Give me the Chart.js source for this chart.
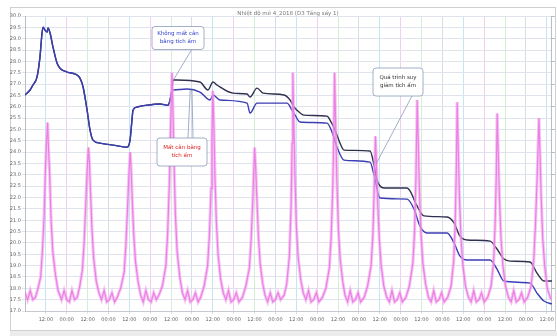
<!DOCTYPE html>
<html><head><meta charset="utf-8">
<script src="https://cdn.jsdelivr.net/npm/chart.js@4.4.1/dist/chart.umd.min.js"></script>
<style>html,body{margin:0;padding:0;background:#fff}canvas{display:block}</style>
</head><body>
<canvas id="c" width="557" height="336"></canvas>
<script>
// ---------- data (hours from start, temperature) ----------
const chartTitle = "Nhiệt độ mẻ 4_2018 (D3 Tầng sấy 1)";
const xTickHours = [12,24,36,48,60,72,84,96,108,120,132,144,156,168,180,192,204,216,228,240,252,264,276,288,300];
const xTickLabels = ["12:00","00:00","12:00","00:00","12:00","00:00","12:00","00:00","12:00","00:00","12:00","00:00","12:00","00:00","12:00","00:00","12:00","00:00","12:00","00:00","12:00","00:00","12:00","00:00","12:00"];

const commonHours = [0,2.9,4.6,6.9,8.6,9.8,10.4,11.5,12.7,13.2,14.4,16.1,18.4,20.1,24.2,29.9,31.6,33.4,35.7,37.4,39.1,43.1,50.6,58.7,60.4,61.5,62.1,64.4,70.2,77.6,82.2,83.4,84.5];
const commonTemps = [26.52,26.74,26.96,27.31,28.19,29.25,29.51,29.38,29.29,29.47,29.25,28.63,27.93,27.70,27.53,27.40,27.26,26.87,25.85,24.97,24.53,24.40,24.31,24.22,24.53,25.41,25.85,25.99,26.07,26.12,26.07,26.30,26.74];

const upperHours = [85.1,87.4,100.6,105.2,108.1,110.4,119.6,127.7,129.4,133.4,136.9,148.9,152.4,154.7,156.4,160.4,173.7,175.4,178.3,181.1,183.4,198.4,200.7,202.4,206.4,219.7,221.4,225.4,229.4,242.7,246.7,250.1,254.2,267.4,271.4,275.4,278.9,290.4,294.4,298.4,303];
const upperTemps = [27.18,27.18,27.09,26.74,27.09,26.96,26.60,26.56,26.43,26.82,26.60,26.52,26.30,25.99,25.85,25.63,25.59,25.41,24.97,24.40,24.09,24.05,23.43,22.77,22.42,22.42,22.29,21.63,21.19,21.14,20.88,20.30,20.13,20.08,19.73,19.29,19.20,19.16,18.67,18.32,18.32];

const lowerHours = [85.1,93.2,100.6,106.4,108.1,112.1,127.7,129.4,133.4,146.6,150.7,153.5,155.3,158.1,173.7,176.5,179.4,183.4,198.4,200.7,204.1,219.7,223.7,227.1,231.2,242.7,246.7,250.1,254.2,267.4,271.4,275.4,290.4,294.4,298.4,303];
const lowerTemps = [26.74,26.78,26.65,26.30,26.52,26.30,26.16,25.72,26.16,26.16,26.16,25.85,25.63,25.33,25.28,24.89,24.22,23.65,23.56,22.99,21.98,21.93,21.49,20.74,20.44,20.44,20.00,19.42,19.25,19.25,18.85,18.32,18.23,17.79,17.44,17.31];

const pinkHours = [
 0,1.5,3,4.5,6,7.5,9,10,11,11.8,12.5,13,13.5,14.2,15,16,17.5,19,21,22.5,24,
 25.5,27,28.5,30,31.5,33,34,35,35.8,36.5,37,37.6,38.5,39.5,41,42.5,44,45.5,47,
 48.5,50,51.5,53,55,57,58,59,59.8,60.5,61,61.6,62.5,63.5,65,66.5,68,69.5,71,
 72.5,74,75.5,77,79,81,82,83,83.8,84.5,85,85.6,86.5,87.5,89,90.5,92,93.5,95,
 96.5,98,99.5,101,103,105,106,107,107.5,108,108.6,109.2,110,111,112.5,114,115.5,117,118.5,
 120,121.5,123,125,127,129,130,131,131.6,132,132.6,133.3,134.2,135.2,136.7,138,139.5,141,142.5,
 144,145.5,147,149,150.5,152,153,153.6,154,154.5,155.2,156,157,158.5,160,161.5,163,164.5,166,
 167.5,169,171,173,175,176,177,177.6,178,178.6,179.3,180.2,181.2,182.7,184,185.5,187,188.5,190,
 191.5,193,195,197,199,200,200.8,201.5,202.1,202.8,203.7,204.8,206.3,208,209.5,211,212.5,214,
 215.5,217,219,221,223,224,224.8,225.5,226.1,226.8,227.7,228.8,230.3,232,233.5,235,236.5,238,
 239.5,241,243,245,246.5,247.3,248,248.5,249.1,249.8,250.7,251.8,253.3,255,256.5,258,259.5,261,
 262.5,264,266,268,269.5,270.3,271,271.5,272.1,272.8,273.7,274.8,276.3,278,279.5,281,282.5,284,
 285.5,287,289,291,292.5,293.5,294.5,295.5,296.1,296.8,297.7,298.8,300.3,302,303];
const pinkTemps = [
 17.8,17.5,17.9,17.5,17.6,18.0,18.5,19.6,21.2,23.4,24.6,25.3,24.2,23.0,21.0,19.6,18.6,17.9,17.5,17.9,17.5,
 17.4,17.9,17.5,17.6,18.1,18.8,20.0,21.8,23.3,24.2,23.6,22.4,20.6,19.3,18.3,17.8,17.5,17.9,17.4,
 17.5,17.8,17.4,17.6,18.0,18.7,19.9,21.6,23.1,24.0,23.3,22.0,20.4,19.2,18.3,17.7,17.4,17.9,17.5,
 17.4,17.8,17.5,17.7,18.1,19.0,20.4,22.6,25.4,27.5,26.1,23.8,21.2,19.6,18.5,17.8,17.5,17.9,17.4,
 17.5,17.8,17.4,17.6,18.1,19.0,20.3,22.4,24.6,26.7,25.2,23.0,21.0,19.5,18.4,17.8,17.5,17.9,17.4,
 17.5,17.8,17.4,17.6,18.1,18.9,20.1,21.9,23.3,24.2,23.4,22.0,20.3,19.1,18.2,17.7,17.4,17.8,17.4,
 17.5,17.8,17.5,17.7,18.2,19.4,21.6,24.4,27.5,25.6,23.0,20.8,19.4,18.4,17.8,17.5,17.9,17.4,17.5,
 17.8,17.4,17.6,18.0,18.9,20.2,22.5,25.0,27.5,25.3,22.8,20.6,19.3,18.3,17.7,17.4,17.9,17.4,17.5,
 17.8,17.4,17.6,18.1,19.0,20.3,22.4,24.7,23.4,21.8,20.2,19.0,18.1,17.6,17.4,17.9,17.4,17.5,
 17.8,17.4,17.6,18.1,19.1,20.5,22.9,26.3,24.5,22.3,20.4,19.1,18.2,17.6,17.4,17.9,17.4,17.5,
 17.8,17.4,17.6,18.1,19.2,20.7,23.2,26.2,24.2,22.0,20.2,19.0,18.1,17.6,17.4,17.9,17.4,17.5,
 17.8,17.4,17.6,18.1,19.2,20.8,23.0,25.7,24.0,22.0,20.2,19.0,18.1,17.6,17.4,17.9,17.4,17.5,
 17.8,17.4,17.6,18.1,19.2,20.8,22.9,25.5,24.0,22.0,20.2,19.0,18.0,17.6,17.5];

const notes = [
  {lines:["Không mất cân","bằng tích ẩm"], color:"#3344cc"},
  {lines:["Mất cân bằng","tích ẩm"], color:"#dd2222"},
  {lines:["Quá trình suy","giảm tích ẩm"], color:"#333333"}
];

// ---------- build ----------
const zip = (xs, ys) => xs.map((x, i) => ({x, y: ys[i]}));
const upperData = zip(commonHours.concat(upperHours), commonTemps.concat(upperTemps));
const lowerData = zip(commonHours.concat(lowerHours), commonTemps.concat(lowerTemps));
const pinkData = zip(pinkHours, pinkTemps);
const vColors = ['#c4e6f3','#f2cdee','#d3eed3','#d6dbe8'];

const decor = {
  id: 'decor',
  beforeDraw(chart) {
    const c = chart.ctx;
    c.save();
    c.fillStyle = '#fff';
    c.fillRect(0, 0, chart.width, chart.height);
    c.strokeStyle = '#d0d0d0';
    c.lineWidth = 1;
    c.strokeRect(10.5, 7.5, 545, 323);
    c.fillStyle = '#ececec';
    c.fillRect(10, 331, 547, 5);
    c.restore();
  },
  afterDraw(chart) {
    const c = chart.ctx;
    const xs = chart.scales.x, ys = chart.scales.y;
    c.save();
    c.font = '5.5px "DejaVu Sans", sans-serif';
    c.fillStyle = '#777';
    c.textAlign = 'center';
    c.textBaseline = 'alphabetic';
    c.fillText(chartTitle, 288, 15);
    const box = (cx, cy, w, h, n, stems) => {
      c.strokeStyle = '#8a9ab8';
      c.lineWidth = 0.8;
      stems.forEach(s => {
        c.beginPath(); c.moveTo(s[0], s[1]); c.lineTo(s[2], s[3]); c.stroke();
      });
      c.beginPath();
      if (c.roundRect) c.roundRect(cx - w/2, cy - h/2, w, h, 3); else c.rect(cx - w/2, cy - h/2, w, h);
      c.fillStyle = '#fff'; c.fill(); c.stroke();
      c.fillStyle = n.color;
      c.font = '5.5px "DejaVu Sans", sans-serif';
      c.textBaseline = 'middle';
      c.fillText(n.lines[0], cx, cy - 4);
      c.fillText(n.lines[1], cx, cy + 4);
    };
    const px = h => xs.getPixelForValue(h), py = v => ys.getPixelForValue(v);
    box(178, 38, 52, 23, notes[0], [[192, 49, px(85.5), py(27.2)]]);
    box(182, 152, 50, 28, notes[1], [[188, 138, px(95), py(26.75)], [193, 138, px(96), py(26.75)]]);
    box(398, 82, 50, 28, notes[2], [[412, 96, px(202), py(23.5)]]);
    c.restore();
  }
};

new Chart(document.getElementById('c'), {
  type: 'line',
  data: {
    datasets: [
      {data: pinkData, borderColor: 'rgba(244,160,236,0.6)', borderWidth: 3.2, pointRadius: 0, tension: 0},
      {data: pinkData, borderColor: '#dd4fd6', borderWidth: 1.2, pointRadius: 0, tension: 0},
      {data: lowerData, borderColor: '#3b3db3', borderWidth: 1.4, pointRadius: 0, cubicInterpolationMode: 'monotone'},
      {data: upperData, borderColor: '#2f3050', borderWidth: 1.4, pointRadius: 0, cubicInterpolationMode: 'monotone'}
    ]
  },
  options: {
    responsive: false,
    animation: false,
    events: [],
    layout: {padding: {left: 10, right: 1, top: 16, bottom: 5}},
    plugins: {legend: {display: false}, title: {display: false}, tooltip: {enabled: false}},
    scales: {
      x: {
        type: 'linear', min: 0, max: 303,
        afterBuildTicks: s => { s.ticks = xTickHours.map(v => ({value: v})); },
        afterFit: s => { s.height = 20; },
        ticks: {callback: (v, i) => xTickLabels[i], autoSkip: false, maxRotation: 0, font: {size: 5, family: 'DejaVu Sans'}, color: '#666', padding: 3},
        grid: {color: ctx => vColors[ctx.index % 4], tickLength: 3},
        border: {color: '#c8c8d0'}
      },
      y: {
        min: 17, max: 30,
        afterFit: s => { s.width = 15; },
        ticks: {stepSize: 0.5, callback: v => v.toFixed(1), font: {size: 5, family: 'DejaVu Sans'}, color: '#666', padding: 1},
        grid: {color: '#dfe4ec', tickLength: 3},
        border: {color: '#b8bcc8'}
      },
      y2: {
        position: 'right', min: 17, max: 30,
        afterFit: s => { s.width = 4; },
        ticks: {stepSize: 0.5, callback: () => '', padding: 0},
        grid: {drawOnChartArea: false, tickLength: 3, color: '#b8bcc8'},
        border: {color: '#b8bcc8'}
      }
    }
  },
  plugins: [decor]
});
</script>
</body></html>
